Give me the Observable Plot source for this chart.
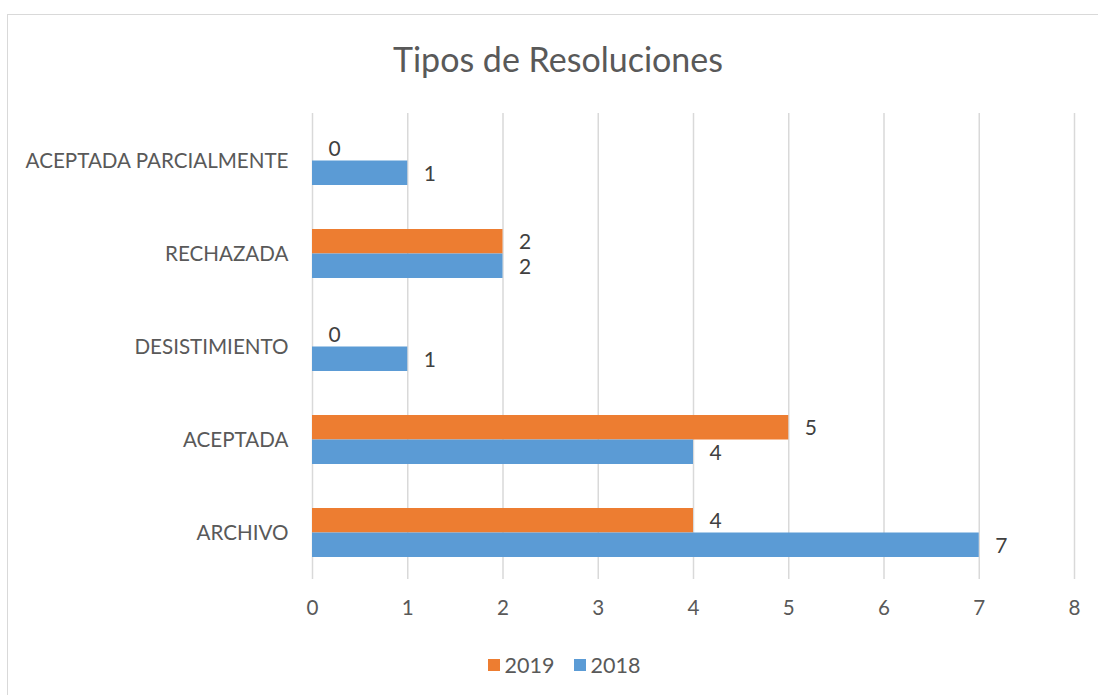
<!DOCTYPE html>
<html>
<head>
<meta charset="utf-8">
<script src="https://cdn.jsdelivr.net/npm/d3@7"></script>
<script src="https://cdn.jsdelivr.net/npm/@observablehq/plot@0.6"></script>
<style>
  html, body { margin: 0; padding: 0; background: #fff; }
  #wrap { position: relative; width: 1098px; height: 695px; overflow: hidden; font-family: Lato, "Liberation Sans", sans-serif; }
  #frame { position: absolute; left: 7px; top: 14px; width: 1200px; height: 800px; border: 1px solid #D9D9D9; box-sizing: border-box; pointer-events: none; }
  #title { height: 95px; line-height: 1; text-align: center; color: #595959; font-size: 34px; box-sizing: border-box; position: relative; }
  #title span { position: absolute; left: 18px; right: 0; top: 42px; }
  #legend { height: 60px; display: flex; justify-content: center; align-items: center; gap: 19px; color: #595959; font-size: 21.5px; padding-left: 30px; }
  .item { display: flex; align-items: center; gap: 5px; }
  .sw { width: 12px; height: 12px; display: inline-block; }
</style>
</head>
<body>
<div id="wrap">
  <div id="frame"></div>
  <div id="title"><span>Tipos de Resoluciones</span></div>
  <div id="chart"></div>
  <div id="legend"></div>
</div>
<script>
const categories = ["ACEPTADA PARCIALMENTE", "RECHAZADA", "DESISTIMIENTO", "ACEPTADA", "ARCHIVO"];
const years = ["2019", "2018"];
const values2019 = [0, 2, 0, 5, 4];
const values2018 = [1, 2, 1, 4, 7];
const xTicks = [0, 1, 2, 3, 4, 5, 6, 7, 8];
const colors = {"2019": "#ED7D31", "2018": "#5B9BD5"};

const rows2019 = categories.map((c, i) => ({category: c, year: "2019", value: values2019[i]}));
const rows2018 = categories.map((c, i) => ({category: c, year: "2018", value: values2018[i]}));

const half = 24.5;
const textColor = "#595959";

const chart = Plot.plot({
  width: 1098,
  height: 540,
  marginLeft: 312,
  marginRight: 24,
  marginTop: 18,
  marginBottom: 56,
  style: {fontFamily: "Lato, 'Liberation Sans', sans-serif", fontSize: "20.6px", color: textColor, background: "transparent"},
  x: {domain: [0, 8], ticks: xTicks, tickSize: 0, tickPadding: 21, label: null, tickFormat: d => String(d)},
  y: {domain: categories, paddingInner: 0.475, paddingOuter: 0.2375, tickSize: 0, tickPadding: 24, label: null},
  marks: [
    Plot.ruleX(xTicks, {x: d => d, stroke: "#D9D9D9", strokeWidth: 1.5}),
    Plot.barX(rows2019, {x: "value", y: "category", fill: colors["2019"], insetBottom: half}),
    Plot.barX(rows2018, {x: "value", y: "category", fill: colors["2018"], insetTop: half}),
    Plot.text(rows2019, {x: "value", y: "category", text: d => String(d.value), dy: -12, dx: 16, textAnchor: "start", fill: "#404040", fontSize: 21}),
    Plot.text(rows2018, {x: "value", y: "category", text: d => String(d.value), dy: 13, dx: 16, textAnchor: "start", fill: "#404040", fontSize: 21})
  ]
});
document.getElementById("chart").appendChild(chart);

const legend = document.getElementById("legend");
years.forEach(y => {
  const it = document.createElement("div");
  it.className = "item";
  const sw = document.createElement("span");
  sw.className = "sw";
  sw.style.background = colors[y];
  const t = document.createElement("span");
  t.textContent = y;
  it.appendChild(sw);
  it.appendChild(t);
  legend.appendChild(it);
});
</script>
</body>
</html>
